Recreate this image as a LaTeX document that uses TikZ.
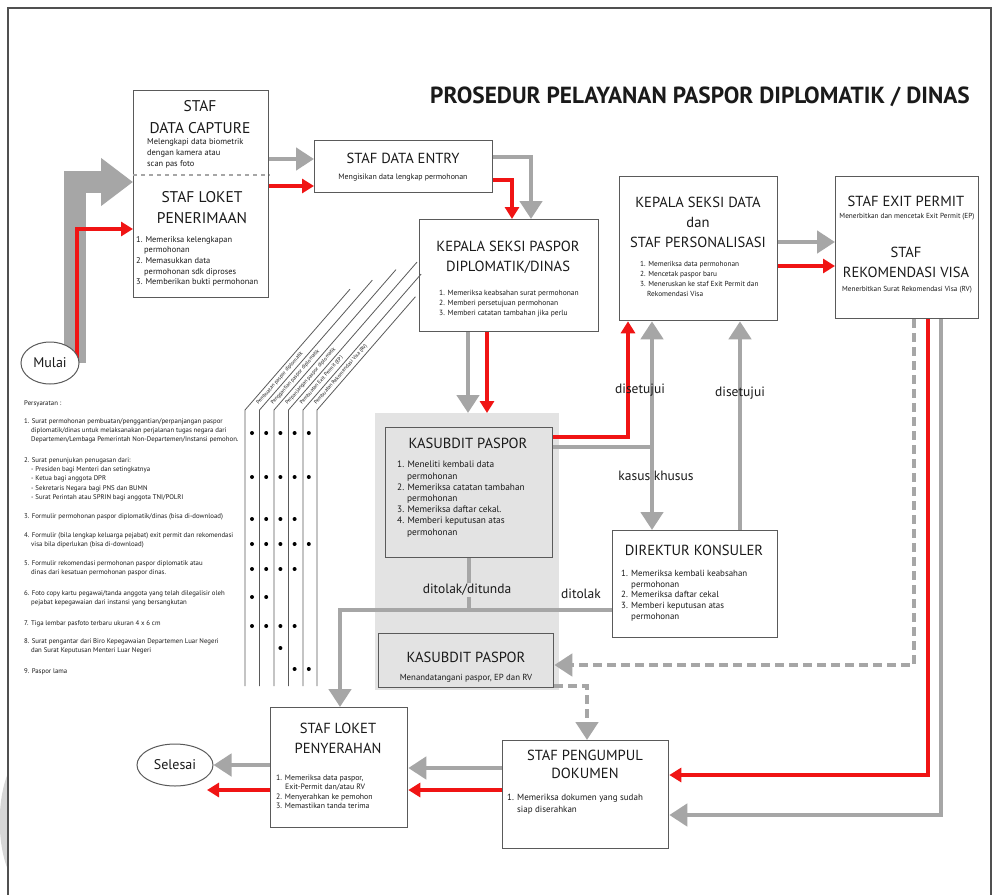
\documentclass[tikz,border=0pt]{standalone}
\usepackage{fontspec}
\setmainfont{PT Sans}
\usetikzlibrary{arrows.meta,backgrounds,shapes.geometric}
\definecolor{gcol}{HTML}{A6A6A6}
\definecolor{boxline}{HTML}{5A5A5A}
\definecolor{zone}{HTML}{E3E3E3}
\definecolor{txt}{HTML}{1A1A1A}
\definecolor{redc}{HTML}{F01414}
\definecolor{framec}{HTML}{505050}
\begin{document}
\begin{tikzpicture}[x=1pt,y=-1pt,
  box/.style={draw=boxline,line width=1.3pt,fill=white,anchor=north west,inner sep=0pt},
  hd/.style={font=\fontsize{14.6}{20}\selectfont,text=txt,align=center,inner sep=0pt},
  sm/.style={font=\fontsize{7.5}{10}\selectfont,text=txt,align=left,inner sep=0pt,anchor=north west},
  smc/.style={font=\fontsize{7.5}{9}\selectfont,text=txt,align=center,inner sep=0pt},
  lg/.style={font=\fontsize{6.8}{9.4}\selectfont,text=txt,align=left,inner sep=0pt,anchor=north west},
  colhd/.style={font=\fontsize{5.3}{6}\selectfont,text=txt,inner sep=0pt,anchor=west,rotate=49},
  lbl/.style={font=\fontsize{13.5}{15}\selectfont,text=txt,inner sep=1pt},
  oval/.style={draw=boxline,line width=1pt,fill=white,ellipse,inner sep=0pt,font=\fontsize{14}{15}\selectfont,text=txt},
  gar/.style={draw=gcol,line width=4.5pt,-{Triangle[width=22pt,length=18pt]}},
  gplain/.style={draw=gcol,line width=4.5pt},
  gdash/.style={gar,dash pattern=on 9pt off 5pt},
  rar/.style={draw=redc,line width=3.5pt,-{Triangle[width=14pt,length=12pt]}},
  colline/.style={draw=boxline,line width=0.8pt}
]
\useasboundingbox (0,0) rectangle (998,894);

% page frame and the grey tab on the left edge
\fill[black!16] (8,773) .. controls (-3,800) and (-3,843) .. (8,870) -- cycle;
\draw[framec,line width=1.5pt] (8,905) -- (8,8) -- (991,8) -- (991,905);

% title
\node[font=\bfseries\fontsize{23.3}{25}\selectfont,text=txt,anchor=west,inner sep=0pt] (title) at (430,97)
  {PROSEDUR PELAYANAN PASPOR DIPLOMATIK / DINAS};

% shaded area around the Kasubdit Paspor steps
\node[fill=zone,anchor=north west,minimum width=184pt,minimum height=277pt,inner sep=0pt] (zone) at (375,413) {};

% start / end ovals
\node[oval,minimum width=58pt,minimum height=42pt] (mulai) at (50,363) {Mulai};
\node[oval,minimum width=76pt,minimum height=42pt] (sel) at (175,765) {Selesai};

% ---- boxes ----
\node[box,minimum width=135pt,minimum height=207pt] (b1) at (133,90) {};
\node[hd,font=\fontsize{15.5}{22.6}\selectfont] (b1h1) at (200,117) {STAF\\DATA CAPTURE};
\node[sm,font=\fontsize{8.4}{11}\selectfont] (b1t1) at (147,138.5) {Melengkapi data biometrik\\dengan kamera atau\\scan pas foto};
\draw[draw=gcol,line width=1.6pt,dash pattern=on 4pt off 4pt] (b1.west |- 0,175) -- (b1.east |- 0,175);
\node[hd,font=\fontsize{15.5}{21}\selectfont] (b1h2) at (202,207.5) {STAF LOKET\\PENERIMAAN};
\node[sm,font=\fontsize{8.4}{10.7}\selectfont] (b1t2) at (136,236)
  {1. Memeriksa kelengkapan\\\hspace*{8pt}permohonan\\2. Memasukkan data\\\hspace*{8pt}permohonan sdk diproses\\3. Memberikan bukti permohonan};

\node[box,minimum width=178pt,minimum height=52pt] (b2) at (314,140) {};
\node[hd] (b2h) at (403,158) {STAF DATA ENTRY};
\node[smc,font=\fontsize{7.9}{9}\selectfont] (b2t) at (403,178) {Mengisikan data lengkap permohonan};

\node[box,minimum width=179pt,minimum height=112pt] (b3) at (419,219) {};
\node[hd] (b3h) at (508,257) {KEPALA SEKSI PASPOR\\DIPLOMATIK/DINAS};
\node[sm] (b3t) at (439,289.5)
  {1. Memeriksa keabsahan surat permohonan\\2. Memberi persetujuan permohonan\\3. Memberi catatan tambahan jika perlu};

\node[box,minimum width=158pt,minimum height=144pt] (b4) at (619,176) {};
\node[hd] (b4h) at (698,222) {KEPALA SEKSI DATA\\dan\\STAF PERSONALISASI};
\node[sm,font=\fontsize{7.3}{10}\selectfont] (b4t) at (640,261.5)
  {1. Memeriksa data permohonan\\2. Mencetak paspor baru\\3. Meneruskan ke staf Exit Permit dan\\\hspace*{7pt}Rekomendasi Visa};

\node[box,minimum width=143pt,minimum height=142pt] (b5) at (835,176) {};
\node[hd] (b5h1) at (906,201) {STAF EXIT PERMIT};
\node[smc,font=\fontsize{7.3}{8}\selectfont] (b5t1) at (907,217) {Menerbitkan dan mencetak Exit Permit (EP)};
\node[hd] (b5h2) at (906,262) {STAF\\REKOMENDASI VISA};
\node[smc,font=\fontsize{7.3}{8}\selectfont] (b5t2) at (907,290) {Menerbitkan Surat Rekomendasi Visa (RV)};

\node[box,fill=zone,minimum width=167pt,minimum height=130pt] (ks) at (385,427) {};
\node[hd] (ksh) at (468,443) {KASUBDIT PASPOR};
\node[sm,font=\fontsize{9.3}{11.2}\selectfont] (kst) at (397,461)
  {1. Meneliti kembali data\\\hspace*{10pt}permohonan\\2. Memeriksa catatan tambahan\\\hspace*{10pt}permohonan\\3. Memeriksa daftar cekal.\\4. Memberi keputusan atas\\\hspace*{10pt}permohonan};

\node[box,minimum width=165pt,minimum height=107pt] (dk) at (612,530) {};
\node[hd] (dkh) at (694,550) {DIREKTUR KONSULER};
\node[sm,font=\fontsize{8.9}{10.7}\selectfont] (dkt) at (621,570)
  {1. Memeriksa kembali keabsahan\\\hspace*{10pt}permohonan\\2. Memeriksa daftar cekal\\3. Memberi keputusan atas\\\hspace*{10pt}permohonan};

\node[box,fill=zone,minimum width=175pt,minimum height=54pt] (ks2) at (378,633) {};
\node[hd] (ks2h) at (466,657) {KASUBDIT PASPOR};
\node[smc,font=\fontsize{8.8}{9}\selectfont] (ks2t) at (466,678) {Menandatangani paspor, EP dan RV};

\node[box,minimum width=137pt,minimum height=120pt] (lp) at (270,707) {};
\node[hd] (lph) at (338,738) {STAF LOKET\\PENYERAHAN};
\node[sm,font=\fontsize{7.8}{9.4}\selectfont] (lpt) at (276,774.5)
  {1. Memeriksa data paspor,\\\hspace*{9pt}Exit-Permit dan/atau RV\\2. Menyerahkan ke pemohon\\3. Memastikan tanda terima};

\node[box,minimum width=166pt,minimum height=108pt] (pg) at (502,740) {};
\node[hd,font=\fontsize{14.6}{18}\selectfont] (pgh) at (585,764) {STAF PENGUMPUL\\DOKUMEN};
\node[sm,font=\fontsize{9}{12}\selectfont] (pgt) at (507,794)
  {1. Memeriksa dokumen yang sudah\\\hspace*{10pt}siap diserahkan};

% ---- start arrows, behind the start oval ----
\begin{pgfonlayer}{background}
\fill[white] (0,0) rectangle (998,894);
\draw[draw=gcol,line width=22pt,line join=miter,-{Triangle[width=46pt,length=32pt]}]
  (mulai.center -| 75,0) -- (75,182) -- (b1.west |- 0,182);
\draw[rar] (mulai.center -| 77,0) -- (77,229) -- (b1.west |- 0,229);
\end{pgfonlayer}

% ---- connectors ----
\draw[gar] (b1.east |- 0,159) -- (b2.west |- 0,159);
\draw[rar] (b1.east |- 0,186) -- (b2.west |- 0,186);
\draw[gar] (b2.east |- 0,157) -| (b3.north -| 531,0);
\draw[rar] (b2.east |- 0,180) -| (b3.north -| 512,0);
\draw[gar] (b3.south -| 468,0) -- (zone.north -| 468,0);
\draw[rar] (b3.south -| 487,0) -- (zone.north -| 487,0);

\draw[gar] (ks.east |- 0,447) -| (b4.south -| 652,0);
\coordinate (split) at (652,447);
\draw[gar] (split) -- (dk.north -| 652,0);
\draw[rar] (ks.east |- 0,437) -| (b4.south -| 628,0);
\draw[gar] (dk.north -| 740,0) -- (b4.south -| 740,0);

\draw[gar] (b4.east |- 0,242) -- (b5.west |- 0,242);
\draw[rar] (b4.east |- 0,266) -- (b5.west |- 0,266);

\draw[gdash] (b5.south -| 914,0) |- (ks2.east |- 0,665);
\draw[gar] (b5.south -| 941,0) |- (pg.east |- 0,815);
\draw[rar] (b5.south -| 928,0) |- (pg.east |- 0,775);

\draw[gdash] (ks2.east |- 0,686) -| (pg.north -| 587,0);

\draw[gplain] (ks.south) -- (ks.south |- 0,610);
\draw[gar] (dk.west |- 0,610) -| (lp.north -| 340,0);

\draw[gar] (pg.west |- 0,768) -- (lp.east |- 0,768);
\draw[rar] (pg.west |- 0,790) -- (lp.east |- 0,790);
\draw[gar] (lp.west |- 0,765) -- (sel.east);
\coordinate (selred) at (207,790);
\draw[rar] (lp.west |- 0,790) -- (selred);

% ---- connector labels ----
\node[lbl] (l1) at (640,390) {disetujui};
\node[lbl] (l2) at (740,393) {disetujui};
\node[lbl] (l3) at (656,476) {kasus khusus};
\node[lbl,fill=zone] (l4) at (467,590) {ditolak/ditunda};
\node[lbl] (l5) at (581,594) {ditolak};

% ---- requirements list ----
\node[lg] (req0) at (24,400) {Persyaratan :};
\node[lg] (req1) at (24,418) {1. Surat permohonan pembuatan/penggantian/perpanjangan paspor\\\hspace*{7pt}diplomatik/dinas untuk melaksanakan perjalanan tugas negara dari\\\hspace*{7pt}Departemen/Lembaga Pemerintah Non-Departemen/Instansi pemohon.};
\node[lg] (req2) at (24,457) {2. Surat penunjukan penugasan dari:\\\hspace*{7pt}- Presiden bagi Menteri dan setingkatnya\\\hspace*{7pt}- Ketua bagi anggota DPR\\\hspace*{7pt}- Sekretaris Negara bagi PNS dan BUMN\\\hspace*{7pt}- Surat Perintah atau SPRIN bagi anggota TNI/POLRI};
\node[lg] (req3) at (24,513) {3. Formulir permohonan paspor diplomatik/dinas (bisa di-download)};
\node[lg] (req4) at (24,532) {4. Formulir (bila lengkap keluarga pejabat) exit permit dan rekomendasi\\\hspace*{7pt}visa bila diperlukan (bisa di-download)};
\node[lg] (req5) at (24,560) {5. Formulir rekomendasi permohonan paspor diplomatik atau\\\hspace*{7pt}dinas dari kesatuan permohonan paspor dinas.};
\node[lg] (req6) at (24,590) {6. Foto copy kartu pegawai/tanda anggota yang telah dilegalisir oleh\\\hspace*{7pt}pejabat kepegawaian dari instansi yang bersangkutan};
\node[lg] (req7) at (24,620) {7. Tiga lembar pasfoto terbaru ukuran 4 x 6 cm};
\node[lg] (req8) at (24,638) {8. Surat pengantar dari Biro Kepegawaian Departemen Luar Negeri\\\hspace*{7pt}dan Surat Keputusan Menteri Luar Negeri};
\node[lg] (req9) at (24,668) {9. Paspor lama};

% ---- checklist columns with slanted headings ----
\foreach \x/\len in {245/160,259.5/172,274/186,288.5/196,303/180,317/150}{
  \draw[colline] (\x,686) -- (\x,410) -- ++(0.656*\len,-0.755*\len);
}
\foreach \x/\t [count=\i] in {
  252.25/Pembuatan paspor diplomatik/dinas baru,
  266.75/Penggantian paspor diplomatik/dinas,
  281.25/Perpanjangan paspor diplomatik/dinas,
  295.75/Pembuatan Exit Permit (EP),
  310/Pembuatan Rekomendasi Visa (RV)}{
  \node[colhd] (ch\i) at (\x+0.656*8,410-0.755*8) {\t};
}
% dots in the five columns
\foreach \y/\cols in {433/{1,2,3,4,5},477/{1,2,3,4,5},519/{1,2,3,4},544/{1,2,3,4,5},
  569/{1,2,3,4},597/{1,2},626/{1,2,3,4},648/{3},669/{4,5}}{
  \foreach \c in \cols {
    \fill (252+14.2*\c-14.2,\y) circle (2pt);
  }
}
\end{tikzpicture}
\end{document}
